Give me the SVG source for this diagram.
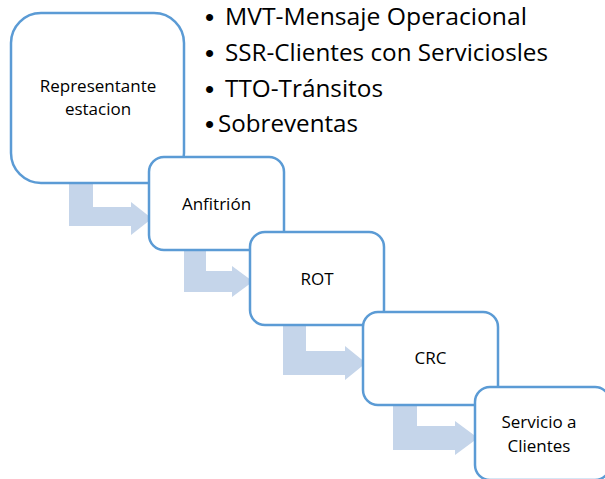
<svg xmlns="http://www.w3.org/2000/svg" width="605" height="479" viewBox="0 0 605 479">
<style>
.box{fill:#fff;stroke:#5B9BD5;stroke-width:2.5}
.arr{fill:#C5D5EA;stroke:none}
.lbl{font-family:"Open Sans","Liberation Sans",sans-serif;font-size:17px;fill:#000;text-anchor:middle}
.bul{font-family:"Open Sans","Liberation Sans",sans-serif;font-size:24px;fill:#000}
.dot{font-family:"Liberation Sans",sans-serif;font-size:26px;fill:#000}
</style>
<rect width="605" height="479" fill="#fff"/>
<g id="connectors">
<path class="arr" d="M69,183 H93 V207 H131 V202 L152,218.5 L131,235 V226 H69 Z"/>
<path class="arr" d="M184,250 H206 V271 H232 V266 L253,281.5 L232,297 V292 H184 Z"/>
<path class="arr" d="M283,325 H306 V351 H345 V346 L366,363 L345,380 V375 H283 Z"/>
<path class="arr" d="M393,405 H417 V426 H455 V421 L478,438 L455,455 V450 H393 Z"/>
</g>
<g id="bullets">
<text class="dot" x="205" y="26">•</text><text class="bul" x="225" y="25" textLength="302" lengthAdjust="spacingAndGlyphs">MVT-Mensaje Operacional</text>
<text class="dot" x="205" y="62">•</text><text class="bul" x="225" y="61" textLength="323" lengthAdjust="spacingAndGlyphs">SSR-Clientes con Serviciosles</text>
<text class="dot" x="205" y="98">•</text><text class="bul" x="225" y="97" textLength="158" lengthAdjust="spacingAndGlyphs">TTO-Tránsitos</text>
<text class="dot" x="205" y="133">•</text><text class="bul" x="218" y="132" textLength="140" lengthAdjust="spacingAndGlyphs">Sobreventas</text>
</g>
<g id="n1">
<rect class="box" x="11" y="13" width="173" height="170" rx="30"/>
<text class="lbl" x="98" y="92">Representante</text>
<text class="lbl" x="98" y="115">estacion</text>
</g>
<g id="n2">
<rect class="box" x="149" y="157" width="135" height="93" rx="15"/>
<text class="lbl" x="216.5" y="210">Anfitrión</text>
</g>
<g id="n3">
<rect class="box" x="250" y="232" width="134" height="93" rx="15"/>
<text class="lbl" x="317" y="285">ROT</text>
</g>
<g id="n4">
<rect class="box" x="363" y="312" width="135" height="93" rx="15"/>
<text class="lbl" x="430.5" y="364">CRC</text>
</g>
<g id="n5">
<rect class="box" x="475" y="387" width="135" height="93" rx="15"/>
<text class="lbl" x="539" y="428">Servicio a</text>
<text class="lbl" x="539" y="452">Clientes</text>
</g>
</svg>
